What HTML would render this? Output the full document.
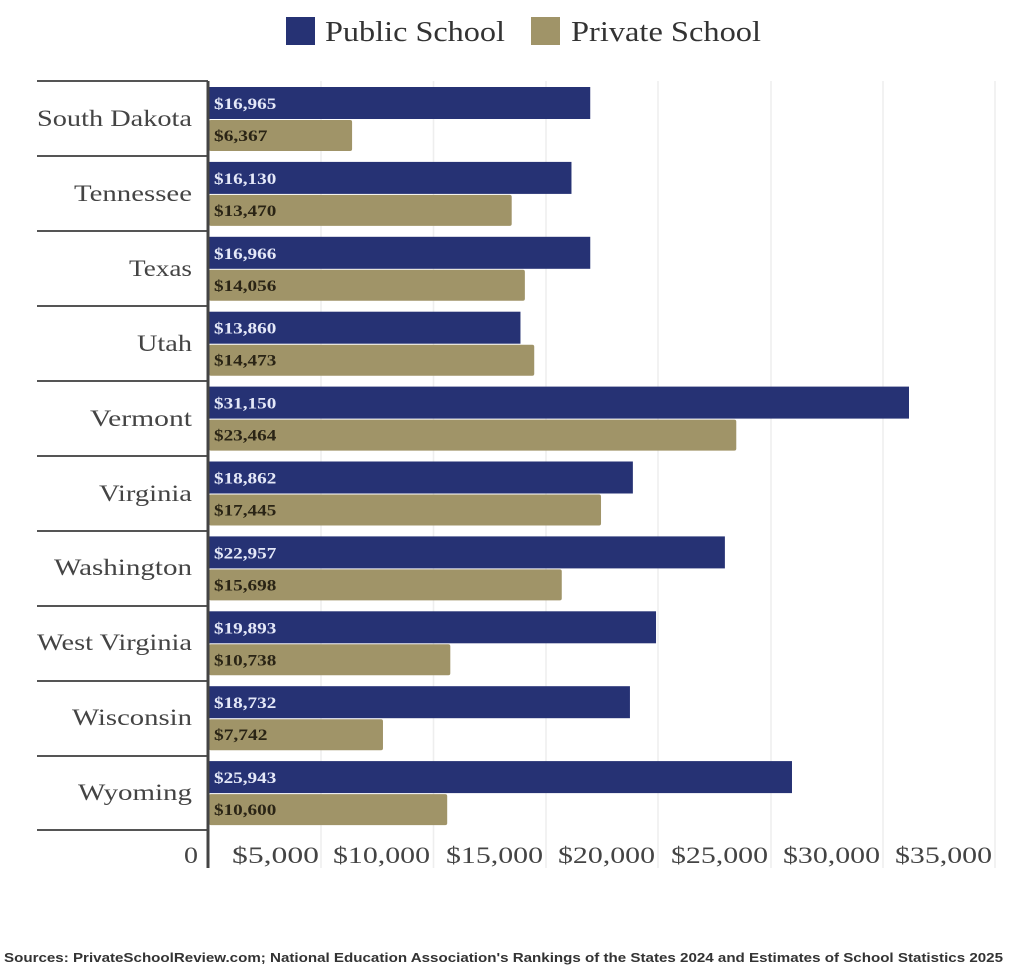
<!DOCTYPE html>
<html><head><meta charset="utf-8"><style>
body{margin:0;background:#fff;}
svg{display:block;}
</style></head><body>
<svg width="1024" height="980" viewBox="0 0 1024 980" xmlns="http://www.w3.org/2000/svg" font-family="Liberation Serif, serif">
<rect width="1024" height="980" fill="#fff"/>
<rect x="286" y="17" width="29" height="28" fill="#263274"/>
<text x="325" y="41" font-size="28" fill="#333" textLength="180" lengthAdjust="spacingAndGlyphs">Public School</text>
<rect x="531" y="17" width="29" height="28" fill="#a09468"/>
<text x="571" y="41" font-size="28" fill="#333" textLength="190" lengthAdjust="spacingAndGlyphs">Private School</text>
<g stroke="#eeeeee" stroke-width="1.5">
<line x1="321" y1="81" x2="321" y2="868"/><line x1="433.5" y1="81" x2="433.5" y2="868"/>
<line x1="546" y1="81" x2="546" y2="868"/><line x1="658" y1="81" x2="658" y2="868"/>
<line x1="771" y1="81" x2="771" y2="868"/><line x1="883" y1="81" x2="883" y2="868"/>
<line x1="995" y1="81" x2="995" y2="868"/>
</g>
<g stroke="#555" stroke-width="2">
<line x1="37" y1="81" x2="208" y2="81"/><line x1="37" y1="156" x2="208" y2="156"/>
<line x1="37" y1="231" x2="208" y2="231"/><line x1="37" y1="306" x2="208" y2="306"/>
<line x1="37" y1="381" x2="208" y2="381"/><line x1="37" y1="456" x2="208" y2="456"/>
<line x1="37" y1="531" x2="208" y2="531"/><line x1="37" y1="606" x2="208" y2="606"/>
<line x1="37" y1="681" x2="208" y2="681"/><line x1="37" y1="756" x2="208" y2="756"/>
<line x1="37" y1="830" x2="208" y2="830"/>
</g>
<g id="bars"></g>
<line x1="208" y1="81" x2="208" y2="868" stroke="#444" stroke-width="3"/>
<g font-size="23" fill="#444" lengthAdjust="spacingAndGlyphs">
<text x="37" y="126" textLength="155" lengthAdjust="spacingAndGlyphs">South Dakota</text>
<text x="74" y="201" textLength="118" lengthAdjust="spacingAndGlyphs">Tennessee</text>
<text x="129" y="276" textLength="63" lengthAdjust="spacingAndGlyphs">Texas</text>
<text x="137" y="351" textLength="55" lengthAdjust="spacingAndGlyphs">Utah</text>
<text x="90" y="426" textLength="102" lengthAdjust="spacingAndGlyphs">Vermont</text>
<text x="99" y="501" textLength="93" lengthAdjust="spacingAndGlyphs">Virginia</text>
<text x="54" y="575" textLength="138" lengthAdjust="spacingAndGlyphs">Washington</text>
<text x="37" y="650" textLength="155" lengthAdjust="spacingAndGlyphs">West Virginia</text>
<text x="72" y="725" textLength="120" lengthAdjust="spacingAndGlyphs">Wisconsin</text>
<text x="78" y="800" textLength="114" lengthAdjust="spacingAndGlyphs">Wyoming</text>
</g>
<g font-size="23" fill="#444">
<text x="184" y="863" textLength="14" lengthAdjust="spacingAndGlyphs">0</text>
<text x="232" y="863" textLength="87" lengthAdjust="spacingAndGlyphs">$5,000</text>
<text x="333" y="863" textLength="97" lengthAdjust="spacingAndGlyphs">$10,000</text>
<text x="446" y="863" textLength="97" lengthAdjust="spacingAndGlyphs">$15,000</text>
<text x="558" y="863" textLength="97" lengthAdjust="spacingAndGlyphs">$20,000</text>
<text x="671" y="863" textLength="97" lengthAdjust="spacingAndGlyphs">$25,000</text>
<text x="783" y="863" textLength="97" lengthAdjust="spacingAndGlyphs">$30,000</text>
<text x="895" y="863" textLength="97" lengthAdjust="spacingAndGlyphs">$35,000</text>
</g>
<text x="4" y="962" font-family="Liberation Sans, sans-serif" font-size="13" font-weight="bold" fill="#333" textLength="999" lengthAdjust="spacingAndGlyphs">Sources: PrivateSchoolReview.com; National Education Association's Rankings of the States 2024 and Estimates of School Statistics 2025</text>
</svg>
<script>
var d=[[16965,6367],[16130,13470],[16966,14056],[13860,14473],[31150,23464],[18862,17445],[22957,15698],[19893,10738],[18732,7742],[25943,10600]];
var g=document.getElementById('bars'),s='';
function f(v){return '$'+v.toLocaleString('en-US');}
d.forEach(function(r,i){var y=81+i*74.9;var k=700/31150;
s+='<rect x="209" y="'+(y+6)+'" width="'+(r[0]*k)+'" height="32" fill="#263274"/>';
s+='<rect x="209" y="'+(y+39)+'" width="'+(r[1]*k)+'" height="31" fill="#a09468" rx="2"/>';
var a=f(r[0]),b=f(r[1]);
s+='<text x="214" y="'+(y+28)+'" font-size="16" font-weight="bold" fill="#e4e8f8" textLength="'+(a.length*8.9)+'" lengthAdjust="spacingAndGlyphs">'+a+'</text>';
s+='<text x="214" y="'+(y+60)+'" font-size="16" font-weight="bold" fill="#2a2415" textLength="'+(b.length*8.9)+'" lengthAdjust="spacingAndGlyphs">'+b+'</text>';});
g.innerHTML=s;
</script>
</body></html>
